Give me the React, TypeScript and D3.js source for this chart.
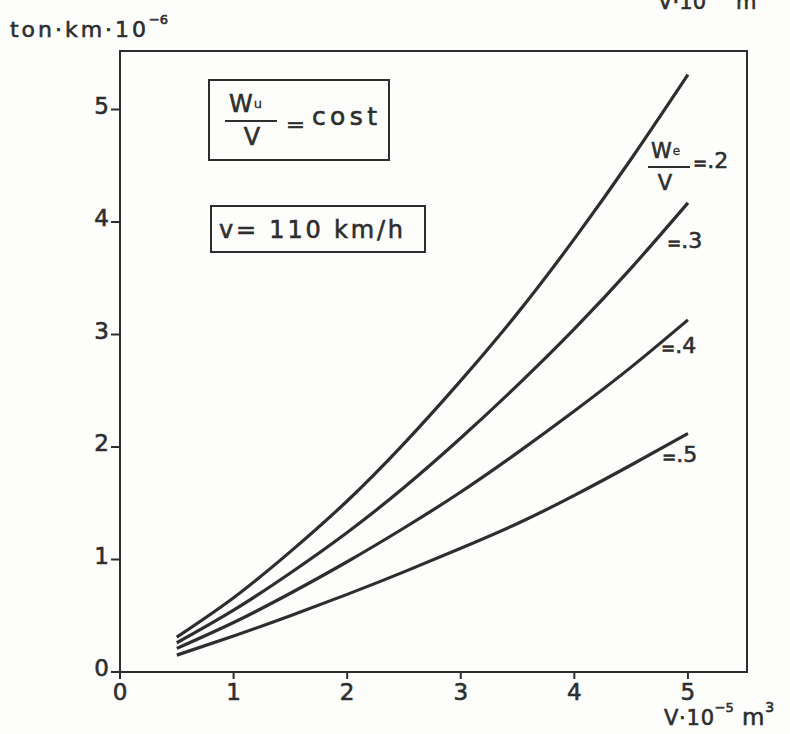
import React from 'react';
import * as d3 from 'd3';

// ---- data ----
const xValues = [0.5, 1, 1.5, 2, 2.5, 3, 3.5, 4, 4.5, 5];
const series02 = [0.31, 0.66, 1.07, 1.52, 2.03, 2.59, 3.19, 3.85, 4.56, 5.31];
const series03 = [0.26, 0.55, 0.88, 1.24, 1.64, 2.08, 2.55, 3.05, 3.59, 4.17];
const series04 = [0.21, 0.44, 0.7, 0.98, 1.28, 1.6, 1.95, 2.32, 2.71, 3.13];
const series05 = [0.15, 0.32, 0.5, 0.69, 0.89, 1.1, 1.32, 1.57, 1.84, 2.12];
const seriesLabels = ['.2', '.3', '.4', '.5'];
const xTicks = [0, 1, 2, 3, 4, 5];
const yTicks = [0, 1, 2, 3, 4, 5];
const yAxisTitle = 'ton·km·10';
const xAxisTitle = 'V·10';
const boxText = 'cost';
const speedText = 'v= 110 km/h';

const W = 790;
const H = 734;
const left = 120, right = 747, top = 51, bottom = 672;
const ink = '#2e2e2e';
const font = "'DejaVu Sans', 'Liberation Sans', sans-serif";
const bolden = { stroke: ink, strokeWidth: 0.6 };

export default function App() {
  const x = d3.scaleLinear().domain([0, 5.52]).range([left, right]);
  const y = d3.scaleLinear().domain([0, 5.52]).range([bottom, top]);
  const line = d3
    .line<[number, number]>()
    .x((d) => x(d[0]))
    .y((d) => y(d[1]))
    .curve(d3.curveNatural);
  const allSeries = [series02, series03, series04, series05];

  const labelPos = [
    { x: 693, y: 168 },
    { x: 667, y: 248 },
    { x: 661, y: 353 },
    { x: 662, y: 462 },
  ];

  return (
    <svg
      width={W}
      height={H}
      style={{ position: 'absolute', left: 0, top: 0, background: '#fdfdfb' }}
      fontFamily={font}
      fill={ink}
    >
      <rect x={0} y={0} width={W} height={H} fill="#fdfdfb" />

      {/* cut-off title of the previous figure at the very top */}
      <text x={658} y={9} fontSize={21} {...bolden}>
        <tspan textLength={48} lengthAdjust="spacing">V·10</tspan>
        <tspan dx={30}>m</tspan>
      </text>

      {/* frame */}
      <rect x={left} y={top} width={right - left} height={bottom - top} fill="none" stroke={ink} strokeWidth={2} />

      {/* y ticks */}
      {yTicks.map((t) => (
        <g key={'y' + t}>
          <line x1={left - 9} x2={left} y1={y(t)} y2={y(t)} stroke={ink} strokeWidth={2} />
          <text x={left - 11} y={y(t) + 4} fontSize={23} textAnchor="end" {...bolden}>
            {t}
          </text>
        </g>
      ))}

      {/* x ticks */}
      {xTicks.map((t) => (
        <g key={'x' + t}>
          <line x1={x(t)} x2={x(t)} y1={bottom} y2={bottom + 7} stroke={ink} strokeWidth={2} />
          <text x={x(t)} y={bottom + 28} fontSize={23} textAnchor="middle" {...bolden}>
            {t}
          </text>
        </g>
      ))}

      {/* y axis title */}
      <text x={10} y={37} fontSize={22} {...bolden}>
        <tspan textLength={136} lengthAdjust="spacing">{yAxisTitle}</tspan>
        <tspan dx={0} dy={-13} fontSize={13}>−6</tspan>
      </text>

      {/* x axis title */}
      <text x={664} y={725} fontSize={21} {...bolden}>
        <tspan textLength={50} lengthAdjust="spacing">{xAxisTitle}</tspan>
        <tspan dx={0} dy={-13} fontSize={13}>−5</tspan>
        <tspan dx={8} dy={13} fontSize={23}>m</tspan>
        <tspan dx={1} dy={-13} fontSize={14}>3</tspan>
      </text>

      {/* box 1: Wu / V = cost */}
      <rect x={209} y={80} width={180} height={80} fill="none" stroke={ink} strokeWidth={2} />
      <text x={229} y={112} fontSize={24} {...bolden}>
        W<tspan dx={1} dy={-4} fontSize={13} strokeWidth={0.3}>u</tspan>
      </text>
      <line x1={225} x2={277} y1={121} y2={121} stroke={ink} strokeWidth={2} />
      <text x={252} y={145} fontSize={24} textAnchor="middle" {...bolden}>V</text>
      <text x={286} y={131} fontSize={20} textLength={19} lengthAdjust="spacingAndGlyphs" {...bolden}>=</text>
      <text x={312} y={125} fontSize={25} textLength={65} lengthAdjust="spacing" {...bolden}>{boxText}</text>

      {/* box 2: speed */}
      <rect x={211} y={206} width={214} height={46} fill="none" stroke={ink} strokeWidth={2} />
      <text x={219} y={238} fontSize={24} textLength={184} lengthAdjust="spacing" {...bolden}>{speedText}</text>

      {/* curves */}
      {allSeries.map((s, i) => (
        <path
          key={'s' + i}
          d={line(xValues.map((v, j) => [v, s[j]] as [number, number])) || ''}
          fill="none"
          stroke={ink}
          strokeWidth={3.2}
          strokeLinecap="butt"
        />
      ))}

      {/* curve labels */}
      <text x={651} y={158} fontSize={21} {...bolden}>
        W<tspan dx={1} dy={-3} fontSize={12} strokeWidth={0.3}>e</tspan>
      </text>
      <line x1={648} x2={690} y1={167} y2={167} stroke={ink} strokeWidth={1.8} />
      <text x={665} y={190} fontSize={21} textAnchor="middle" {...bolden}>V</text>
      {seriesLabels.map((lab, i) => (
        <text key={'l' + i} x={labelPos[i].x} y={labelPos[i].y} fontSize={22} {...bolden}>
          <tspan fontSize={17} dy={1}>=</tspan>
          <tspan dy={-1}>{lab}</tspan>
        </text>
      ))}
    </svg>
  );
}
